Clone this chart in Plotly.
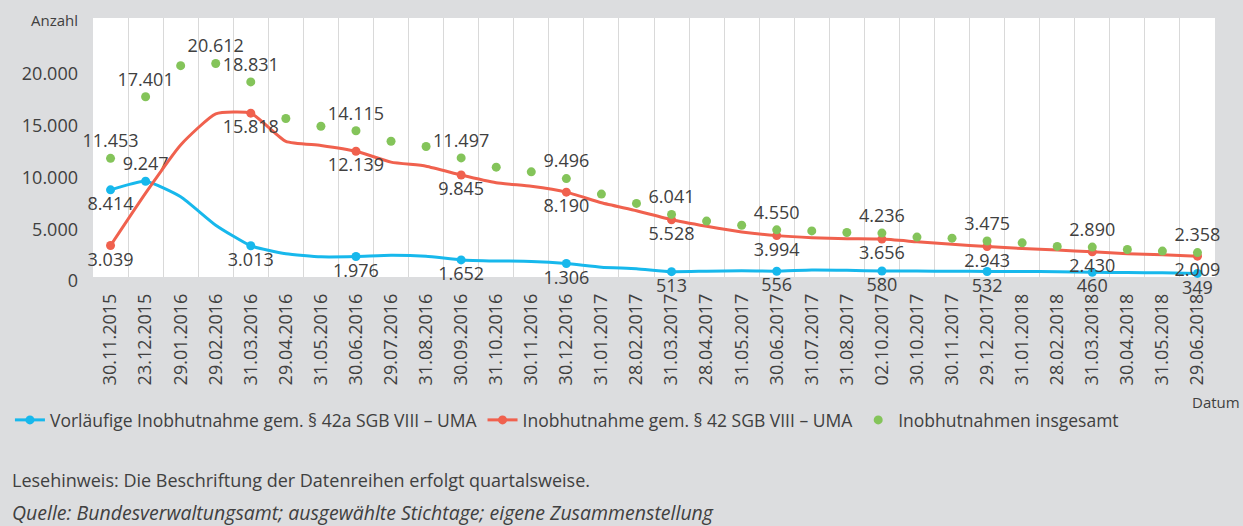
import plotly.graph_objects as go

# Stichtage (Kategorien der x-Achse)
stichtage = [
    "30.11.2015", "23.12.2015", "29.01.2016", "29.02.2016", "31.03.2016",
    "29.04.2016", "31.05.2016", "30.06.2016", "29.07.2016", "31.08.2016",
    "30.09.2016", "31.10.2016", "30.11.2016", "30.12.2016", "31.01.2017",
    "28.02.2017", "31.03.2017", "28.04.2017", "31.05.2017", "30.06.2017",
    "31.07.2017", "31.08.2017", "02.10.2017", "30.10.2017", "30.11.2017",
    "29.12.2017", "31.01.2018", "28.02.2018", "31.03.2018", "30.04.2018",
    "31.05.2018", "29.06.2018",
]

# Vorläufige Inobhutnahme gem. § 42a SGB VIII – UMA
vorlaeufig = [
    8414, 9247, 7750, 5000, 3013, 2250, 1950, 1976, 2100, 2000,
    1652, 1550, 1500, 1306, 950, 800, 513, 560, 600, 556,
    680, 650, 580, 570, 560, 532, 540, 500, 460, 430,
    400, 349,
]

# Inobhutnahme gem. § 42 SGB VIII – UMA
inobhut_42 = [
    3039, 8100, 12750, 15750, 15818, 13100, 12700, 12139, 11090, 10700,
    9845, 9100, 8750, 8190, 7170, 6400, 5528, 4900, 4350, 3994,
    3800, 3700, 3656, 3400, 3150, 2943, 2750, 2600, 2430, 2250,
    2150, 2009,
]

# Inobhutnahmen insgesamt
insgesamt = [
    11453, 17401, 20400, 20612, 18831, 15300, 14550, 14115, 13100, 12600,
    11497, 10600, 10150, 9496, 8000, 7100, 6041, 5400, 5000, 4550,
    4450, 4300, 4236, 3850, 3750, 3475, 3300, 2950, 2890, 2650,
    2500, 2358,
]

# Punkte mit Datenbeschriftung
quartale = [0, 4, 7, 10, 13, 16, 19, 22, 25, 28, 31]
beschriftet_vorl = [0, 1] + quartale[1:]
beschriftet_42 = quartale
beschriftet_ges = [0, 1, 3] + quartale[1:]
oben_vorl = [1]

y_ticks = [0, 5000, 10000, 15000, 20000]

BLAU = "#17B8EC"
ROT = "#F0614E"
GRUEN = "#84C45A"
TEXT = "#404040"
HINTERGRUND = "#DCDDDF"
FONT = "Open Sans"


def de(n):
    return f"{n:,}".replace(",", ".")


def texte(werte, idx):
    return [de(v) if i in idx else "" for i, v in enumerate(werte)]


def markerfarben(idx, farbe):
    return [farbe if i in idx else "rgba(0,0,0,0)" for i in range(len(stichtage))]


fig = go.Figure()

fig.add_trace(go.Scatter(
    x=stichtage, y=vorlaeufig,
    name="Vorläufige Inobhutnahme gem. § 42a SGB VIII – UMA",
    mode="lines+markers+text",
    line=dict(color=BLAU, width=3, shape="spline", smoothing=0.5),
    marker=dict(size=9, color=markerfarben(beschriftet_vorl, BLAU)),
    text=texte(vorlaeufig, beschriftet_vorl),
    textposition=["top center" if i in oben_vorl else "bottom center"
                  for i in range(len(stichtage))],
    textfont=dict(family=FONT, size=18, color=TEXT),
    cliponaxis=False,
))

fig.add_trace(go.Scatter(
    x=stichtage, y=inobhut_42,
    name="Inobhutnahme gem. § 42 SGB VIII – UMA",
    mode="lines+markers+text",
    line=dict(color=ROT, width=3, shape="spline", smoothing=0.5),
    marker=dict(size=9, color=markerfarben(beschriftet_42, ROT)),
    text=texte(inobhut_42, beschriftet_42),
    textposition="bottom center",
    textfont=dict(family=FONT, size=18, color=TEXT),
    cliponaxis=False,
))

fig.add_trace(go.Scatter(
    x=stichtage, y=insgesamt,
    name="Inobhutnahmen insgesamt",
    mode="markers+text",
    marker=dict(size=9, color=GRUEN),
    text=texte(insgesamt, beschriftet_ges),
    textposition="top center",
    textfont=dict(family=FONT, size=18, color=TEXT),
    cliponaxis=False,
))

# Umrechnung Pixel -> Papierkoordinaten für die Zusatztexte
L, R, T, B = 92.5, 28, 18, 249
W, H = 1243, 526
pw, ph = W - L - R, H - T - B


def px(xp):
    return (xp - L) / pw


def py(yp):
    return (H - B - yp) / ph


annotationen = [
    dict(text="Anzahl", x=px(79), y=py(20), xanchor="right", size=15),
    dict(text="Datum", x=px(1242), y=py(402), xanchor="right", size=15),
    dict(text="Lesehinweis: Die Beschriftung der Datenreihen erfolgt quartalsweise.",
         x=px(9), y=py(480), xanchor="left", size=18),
    dict(text="<i>Quelle: Bundesverwaltungsamt; ausgewählte Stichtage; eigene Zusammenstellung</i>",
         x=px(9), y=py(512), xanchor="left", size=19.5),
]

fig.update_layout(
    width=W, height=H,
    margin=dict(l=L, r=R, t=T, b=B, pad=0, autoexpand=False),
    paper_bgcolor=HINTERGRUND,
    plot_bgcolor="white",
    separators=",.",
    font=dict(family=FONT, color=TEXT, size=16),
    showlegend=True,
    legend=dict(
        orientation="h",
        xref="container", yref="container",
        x=0.008, y=1 - 420 / H,
        xanchor="left", yanchor="middle",
        font=dict(family=FONT, size=17.5, color=TEXT),
        bgcolor="rgba(0,0,0,0)",
        itemwidth=30,
    ),
    annotations=[
        dict(text=a["text"], x=a["x"], y=a["y"], xref="paper", yref="paper",
             xanchor=a["xanchor"], yanchor="middle", showarrow=False,
             font=dict(family=FONT, size=a["size"], color=TEXT))
        for a in annotationen
    ],
)

fig.update_xaxes(
    type="category",
    range=[-0.5, len(stichtage) - 0.5],
    tickson="boundaries",
    showgrid=True, gridcolor="#D9D9D9", gridwidth=1,
    showline=False, zeroline=False,
    ticks="",
    tickangle=-90,
    tickfont=dict(family=FONT, size=18, color=TEXT),
    ticklabelstandoff=12,
    automargin=False,
)

fig.update_yaxes(
    range=[0, 25000],
    tickvals=y_ticks,
    tickformat=",d",
    showgrid=False, zeroline=False, showline=False,
    ticks="",
    tickfont=dict(family=FONT, size=18, color=TEXT),
    ticklabelstandoff=14,
    ticklabelshift=4,
    automargin=False,
)

fig.write_html("out.html")
